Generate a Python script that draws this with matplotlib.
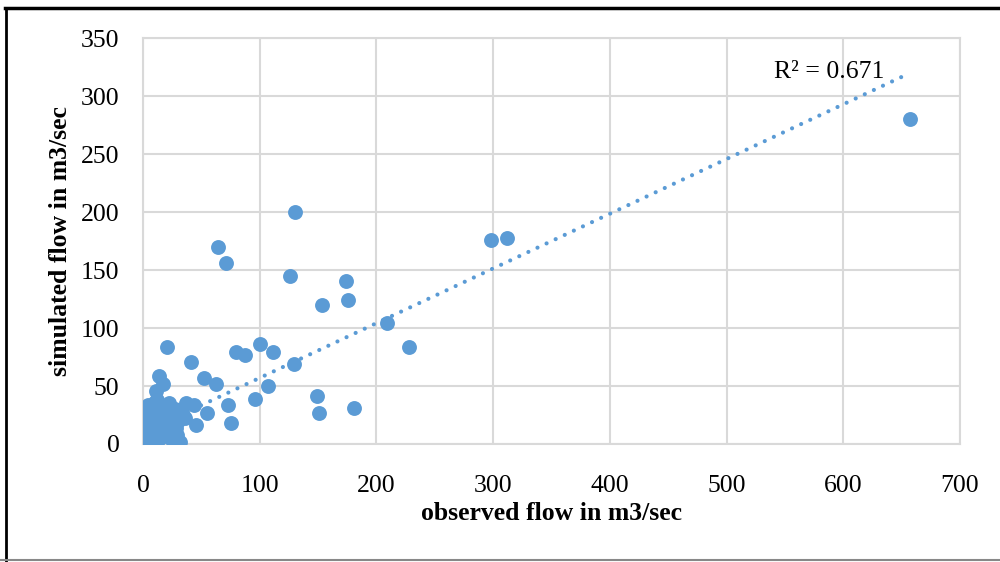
import numpy as np
import matplotlib
matplotlib.use("Agg")
import matplotlib.pyplot as plt
from matplotlib.lines import Line2D

# observed vs simulated flow
observed = [657, 298, 312, 130, 64, 71, 126, 174, 176, 153, 209, 228, 20.5,
            100, 80, 87, 111, 41, 129, 14, 17, 11, 52, 62.5, 107, 149, 96,
            73, 151, 181, 55, 75, 45, 22, 37, 44, 32, 27, 33, 21, 17,
            3, 5, 7, 4, 6, 3, 5, 8, 4, 6, 3, 5, 8, 10, 12, 9, 11, 13, 10,
            12, 9, 14, 16, 18, 15, 17, 19, 14, 20, 22, 24, 26, 23, 25, 28,
            30, 34, 27, 29, 36, 7, 9, 4, 11, 15]
simulated = [280, 176, 178, 200, 170, 156, 145, 141, 124, 120, 104, 84, 84,
             86, 79, 77, 79, 71, 69, 59, 52, 46, 57, 52, 50, 41, 39,
             34, 27, 31, 27, 18, 16, 35, 35, 34, 2, 22, 27, 15, 10,
             2, 4, 1, 8, 12, 15, 18, 20, 22, 25, 28, 30, 33, 36, 38, 28, 24, 20, 15,
             10, 6, 4, 8, 12, 16, 22, 26, 30, 18, 6, 12, 2, 24, 18, 14,
             20, 25, 30, 8, 22, 10, 32, 34, 3, 26]

# linear trendline as drawn in the chart
trend_slope = 0.472
trend_intercept = 9.8
r2_label = "R² = 0.671"

xticks = [0, 100, 200, 300, 400, 500, 600, 700]
yticks = [0, 50, 100, 150, 200, 250, 300, 350]

blue = "#5B9BD5"
grid = "#d9d9d9"

plt.rcParams["font.family"] = ["Liberation Serif", "DejaVu Serif"]

fig = plt.figure(figsize=(10, 5.62), dpi=100)
ax = fig.add_axes([0.143, 0.210, 0.817, 0.722])

ax.scatter(observed, simulated, s=115, color=blue, zorder=3, linewidths=0)

tx = np.array([min(observed), max(observed)])
ax.plot(tx, trend_slope * tx + trend_intercept, color=blue, lw=3,
        linestyle=(0, (0.01, 2.4)), dash_capstyle="round", zorder=4)

ax.text(541, 321, r2_label, fontsize=18.5, va="center", ha="left", zorder=5)

ax.set_xlim(0, 700)
ax.set_ylim(0, 350)
ax.set_xticks(xticks)
ax.set_yticks(yticks)
ax.tick_params(length=0, labelsize=18.5)
ax.tick_params(axis="x", pad=22)
ax.tick_params(axis="y", pad=17)
ax.grid(True, color=grid, lw=1.5, zorder=0)
ax.set_axisbelow(True)
for sp in ax.spines.values():
    sp.set_color(grid)
    sp.set_linewidth(1.5)

ax.set_xlabel("observed flow in m3/sec", fontsize=18.5, fontweight="bold", labelpad=4)
ax.set_ylabel("simulated flow in m3/sec", fontsize=18.5, fontweight="bold", labelpad=6)

# frame around the picture (top, left, bottom)
fig.add_artist(Line2D([0.005, 1.0], [0.986, 0.986], color="black", lw=2.5))
fig.add_artist(Line2D([0.006, 0.006], [0.0, 0.986], color="black", lw=2))
fig.add_artist(Line2D([0.0, 1.0], [0.003, 0.003], color="#888888", lw=1.5))

fig.savefig("out.png", dpi=100)
